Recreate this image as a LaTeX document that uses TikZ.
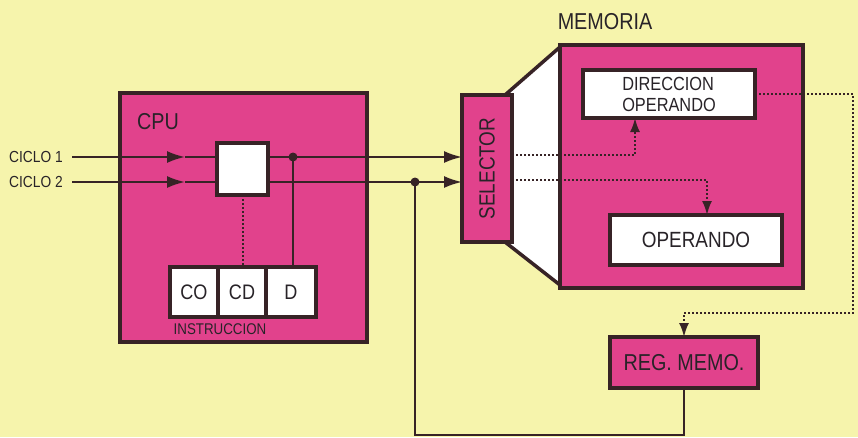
\documentclass[tikz,border=0pt]{standalone}
\usepackage{fontspec}
\setmainfont{Liberation Sans}[FakeStretch=0.86]
\usetikzlibrary{arrows.meta}
\definecolor{bg}{RGB}{246,244,172}
\definecolor{pk}{RGB}{225,66,140}
\definecolor{bd}{RGB}{55,35,38}
\definecolor{tx}{RGB}{40,35,40}
\newcommand{\fs}[1]{\fontsize{#1}{#1}\selectfont}
\tikzset{
  bigtip/.style={-{Latex[length=18pt,width=12pt]}},
  smalltip/.style={-{Latex[length=14pt,width=10pt]}},
  box/.style={draw=bd,line width=3.5pt,fill=pk,inner sep=0pt,outer sep=0pt,anchor=north west,text=tx},
  wbox/.style={draw=bd,line width=3.5pt,fill=white,inner sep=0pt,outer sep=0pt,anchor=north west,text=tx},
  wire/.style={draw=bd,line width=2pt},
  dots/.style={draw=bd,line width=2pt,dash pattern=on 2pt off 2pt},
  lbl/.style={text=tx,inner sep=0pt}}
\begin{document}
\begin{tikzpicture}[x=1pt,y=-1pt]
\fill[bg] (0,0) rectangle (858,437);
\useasboundingbox (0,0) rectangle (858,437);
% CPU
\node[box,minimum width=247pt,minimum height=249pt] (cpu) at (120,93) {};
\node[lbl,font=\fs{23}] (cpulbl) at (158,122) {CPU};
\node[wbox,minimum width=51pt,minimum height=52pt] (sq) at (217,143) {};
\node[wbox,minimum width=48pt,minimum height=50pt,font=\fs{21}] (co) at (170,267) {CO};
\node[wbox,minimum width=48pt,minimum height=50pt,font=\fs{21}] (cd) at (218,267) {CD};
\node[wbox,minimum width=50pt,minimum height=50pt,font=\fs{21}] (dd) at (266,267) {D};
\node[lbl,font=\fs{15.5}] (instr) at (220,329) {INSTRUCCION};
% labels
\node[lbl,font=\fs{16},anchor=west] (c1) at (9,157) {CICLO 1};
\node[lbl,font=\fs{16},anchor=west] (c2) at (9,182) {CICLO 2};
% memory side
\path[draw=bd,line width=3.5pt,fill=white,line join=round] (505,95) -- (560,47) -- (560,285) -- (505,242) -- cycle;
\node[box,minimum width=50pt,minimum height=147pt] (sel) at (462,95) {};
\node[lbl,font=\fs{22},rotate=90] (sellbl) at (sel.center) {SELECTOR};
\node[box,minimum width=243pt,minimum height=243pt] (mem) at (560,45) {};
\node[lbl,font=\fs{23}] (memlbl) at (605,22) {MEMORIA};
\node[wbox,minimum width=172pt,minimum height=48pt,align=left,font=\fs{19}] (dir) at (583,70) {DIRECCION\\[2pt]OPERANDO};
\node[wbox,minimum width=172pt,minimum height=50pt,font=\fs{22}] (op) at (610,215) {OPERANDO};
\node[box,minimum width=148pt,minimum height=51pt,font=\fs{23}] (reg) at (610,337) {REG. MEMO.};
% coordinates
\coordinate (a1) at (72,157);
\coordinate (a2) at (72,182);
\coordinate (m1) at (185,157);
\coordinate (m2) at (185,182);
\coordinate (dot1) at (293,157);
\coordinate (dot2) at (415,182);
\coordinate (bot) at (415,435);
\coordinate (s1) at (635,155);
\coordinate (s2) at (707,180);
\coordinate (r1) at (853,94);
\coordinate (r2) at (853,313);
\coordinate (r3) at (684,313);
% wires
\draw[wire,bigtip] (a1) -- (m1);
\draw[wire] (m1) -- (sq.west |- a1);
\draw[wire,bigtip] (a2) -- (m2);
\draw[wire] (m2) -- (sq.west |- a2);
\draw[wire,bigtip] (sq.east |- a1) -- (sel.west |- a1);
\draw[wire,bigtip] (sq.east |- a2) -- (sel.west |- a2);
\fill[bd] (dot1) circle (4.5pt);
\fill[bd] (dot2) circle (4.5pt);
\draw[wire] (dot1) -- (dot1 |- dd.north);
\draw[dots] (sq.south) -- (sq.south |- cd.north);
\draw[wire] (dot2) -- (bot) -| (reg.south);
% dotted
\draw[dots,smalltip] (sel.east |- s1) -- (s1) -- (s1 |- dir.south);
\draw[dots,smalltip] (sel.east |- s2) -- (s2) -- (s2 |- op.north);
\draw[dots,smalltip] (dir.east |- r1) -- (r1) -- (r2) -- (r3) -- (r3 |- reg.north);
\end{tikzpicture}
\end{document}
